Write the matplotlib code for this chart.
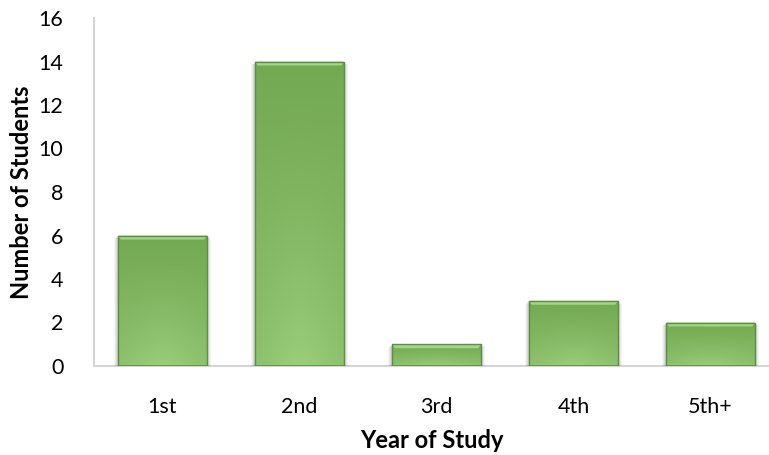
import numpy as np
import matplotlib
matplotlib.use("Agg")
import matplotlib.pyplot as plt
from matplotlib.colors import to_rgb

plt.rcParams['font.family'] = ['Lato', 'DejaVu Sans']

years = ["1st", "2nd", "3rd", "4th", "5th+"]
students = [6, 14, 1, 3, 2]
y_ticks = [0, 2, 4, 6, 8, 10, 12, 14, 16]

W, H = 769, 455
fig = plt.figure(figsize=(W / 100, H / 100), dpi=100)
ax = fig.add_axes([94 / W, 89 / H, (W - 94) / W, 348 / H])

x = np.arange(len(years))
bars = ax.bar(x, students, width=0.65, color='none', edgecolor='#5f8d43',
              linewidth=1.0, zorder=3)

ax.set_xlim(-0.5, -0.5 + (W - 94) / 137)
ax.set_ylim(0, 16)

# vertical gradient fill: darker at the top, lighter towards the base
top = np.array(to_rgb('#74a953'))
bot = np.array(to_rgb('#92c572'))
px_per_unit = 348 / 16
for b in bars:
    x0, w, h = b.get_x(), b.get_width(), b.get_height()
    n = 200
    t = np.linspace(0, 1, n)[:, None]          # 0 at top, 1 at base
    u = np.linspace(-1, 1, 60)[None, :]
    glow = 0.35 * np.exp(-(u ** 2) * 1.5) * t ** 2
    mix = (t * 0.75)[..., None]
    col = top[None, None, :] * (1 - mix) + bot[None, None, :] * mix
    col = col + glow[..., None] * (bot - top)[None, None, :] * 1.5
    col = np.clip(col, 0, 1)
    # drop shadow
    for k, a in [(4, 0.04), (3, 0.05), (2, 0.06), (1, 0.07)]:
        d = k / px_per_unit
        dx = k / 137
        ax.add_patch(plt.Rectangle((x0 - dx, -d), w + 2 * dx, h + d * 0.3,
                                   color='black', alpha=a, lw=0, zorder=1))
    im = ax.imshow(col, extent=(x0, x0 + w, 0, h), origin='upper',
                   aspect='auto', interpolation='bilinear', zorder=2)
    im.set_clip_path(b)
    # bevel highlight along the top edge
    bev = 4 / px_per_unit
    ax.add_patch(plt.Polygon([(x0, h), (x0 + w, h), (x0 + w - 0.02, h - bev),
                              (x0 + 0.02, h - bev)], closed=True,
                             color='#a3d487', lw=0, zorder=2.5))
    ax.add_patch(plt.Rectangle((x0, 0), w, 1.5 / px_per_unit, color='#6b9a4e',
                               lw=0, zorder=2.5))

for s in ['top', 'right']:
    ax.spines[s].set_visible(False)
for s in ['left', 'bottom']:
    ax.spines[s].set_color('#d4d4d4')
    ax.spines[s].set_linewidth(1.5)
    ax.spines[s].set_zorder(0)

ax.set_xticks(x)
ax.set_xticklabels(years)
ax.set_yticks(y_ticks)
ax.tick_params(length=0, labelsize=15.5, colors='#000000')
ax.tick_params(axis='x', pad=22)
ax.tick_params(axis='y', pad=22)

ax.set_ylabel("Number of Students", fontsize=17, fontweight='bold', labelpad=4)
ax.set_xlabel("Year of Study", fontsize=17, fontweight='bold', labelpad=9)
ax.set_facecolor('white')

fig.savefig("out.png", dpi=100)
